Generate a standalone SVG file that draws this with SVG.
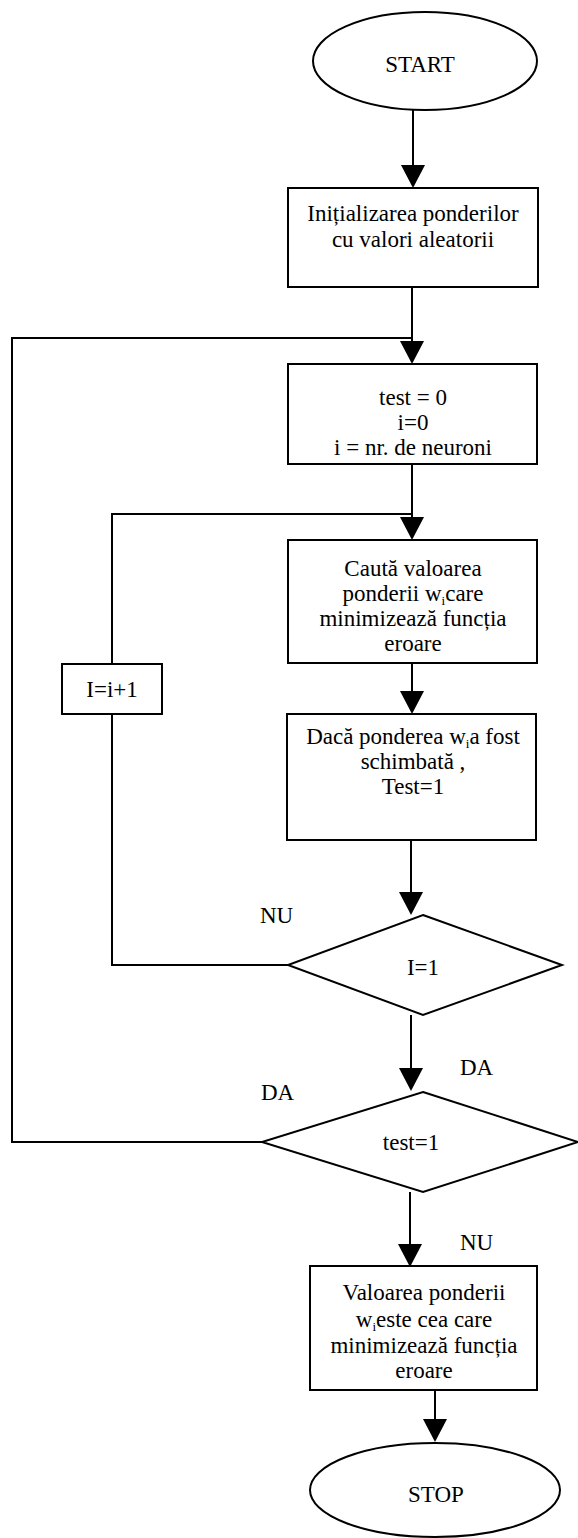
<svg xmlns="http://www.w3.org/2000/svg" width="578" height="1538" viewBox="0 0 578 1538">
  <style>
    .shape { fill: #fff; stroke: #000; stroke-width: 2; }
    .wire { fill: none; stroke: #000; stroke-width: 2; }
    .head { fill: #000; stroke: none; }
    text { font-family: "Liberation Serif", "Times New Roman", serif; font-size: 23px; fill: #000; }
    .c { text-anchor: middle; }
    .sub { font-size: 13px; }
  </style>
  <defs>
    <!-- downward arrowhead, tip at (0,0) -->
    <polygon id="arrow" class="head" points="0,0 -12,-23 12,-23"/>
  </defs>

  <rect width="578" height="1538" fill="#fff"/>

  <!-- connectors -->
  <g id="connectors">
    <line class="wire" x1="413" y1="110" x2="413" y2="170"/>
    <use href="#arrow" x="413" y="188"/>

    <line class="wire" x1="412" y1="287" x2="412" y2="345"/>
    <use href="#arrow" x="412" y="364"/>

    <line class="wire" x1="412" y1="464" x2="412" y2="522"/>
    <use href="#arrow" x="412" y="540"/>

    <line class="wire" x1="412" y1="663" x2="412" y2="696"/>
    <use href="#arrow" x="412" y="714"/>

    <line class="wire" x1="411" y1="840" x2="411" y2="897"/>
    <use href="#arrow" x="411" y="915"/>

    <line class="wire" x1="411" y1="1015" x2="411" y2="1072"/>
    <use href="#arrow" x="411" y="1091"/>

    <line class="wire" x1="410" y1="1192" x2="410" y2="1248"/>
    <use href="#arrow" x="410" y="1267"/>

    <line class="wire" x1="435" y1="1390" x2="435" y2="1423"/>
    <use href="#arrow" x="435" y="1442"/>

    <!-- outer loop: test=1 -> DA back to test = 0 -->
    <polyline class="wire" points="262,1142 12,1142 12,338 412,338"/>
    <!-- inner loop: I=1 -> NU through I=i+1 back to search -->
    <polyline class="wire" points="288,965 112,965 112,714"/>
    <polyline class="wire" points="112,664 112,514 412,514"/>

    <text x="260" y="923">NU</text>
    <text x="460" y="1075">DA</text>
    <text x="261" y="1100">DA</text>
    <text x="460" y="1250">NU</text>
  </g>

  <g id="start">
    <ellipse class="shape" cx="425" cy="61" rx="112" ry="49"/>
    <text class="c" x="420" y="72">START</text>
  </g>

  <g id="init">
    <rect class="shape" x="288" y="188" width="250" height="99"/>
    <text class="c" x="413" y="221">Inițializarea ponderilor</text>
    <text class="c" x="413" y="247">cu valori aleatorii</text>
  </g>

  <g id="reset">
    <rect class="shape" x="288" y="364" width="249" height="100"/>
    <text class="c" x="413" y="405">test = 0</text>
    <text class="c" x="413" y="430">i=0</text>
    <text class="c" x="413" y="455">i = nr. de neuroni</text>
  </g>

  <g id="search">
    <rect class="shape" x="288" y="540" width="249" height="123"/>
    <text class="c" x="413" y="576">Caută valoarea</text>
    <text class="c" x="413" y="601">ponderii w<tspan class="sub" dy="4">i</tspan><tspan dy="-4">care</tspan></text>
    <text class="c" x="413" y="626">minimizează funcția</text>
    <text class="c" x="413" y="651">eroare</text>
  </g>

  <g id="increment">
    <rect class="shape" x="62" y="664" width="100" height="50"/>
    <text class="c" x="112" y="697">I=i+1</text>
  </g>

  <g id="changed">
    <rect class="shape" x="287" y="714" width="249" height="126"/>
    <text class="c" x="413" y="744">Dacă ponderea w<tspan class="sub" dy="4">i</tspan><tspan dy="-4">a fost</tspan></text>
    <text class="c" x="413" y="769">schimbată ,</text>
    <text class="c" x="413" y="794">Test=1</text>
  </g>

  <g id="check-i">
    <polygon class="shape" points="423,915 562,965 423,1015 288,965"/>
    <text class="c" x="423" y="975">I=1</text>
  </g>

  <g id="check-test">
    <polygon class="shape" points="423,1092 578,1142 423,1192 262,1142"/>
    <text class="c" x="411" y="1150">test=1</text>
  </g>

  <g id="result">
    <rect class="shape" x="310" y="1266" width="227" height="124"/>
    <text class="c" x="424" y="1300">Valoarea ponderii</text>
    <text class="c" x="424" y="1327">w<tspan class="sub" dy="4">i</tspan><tspan dy="-4">este cea care</tspan></text>
    <text class="c" x="424" y="1353">minimizează funcția</text>
    <text class="c" x="424" y="1378">eroare</text>
  </g>

  <g id="stop">
    <ellipse class="shape" cx="435" cy="1490" rx="125" ry="47"/>
    <text class="c" x="436" y="1502">STOP</text>
  </g>
</svg>
